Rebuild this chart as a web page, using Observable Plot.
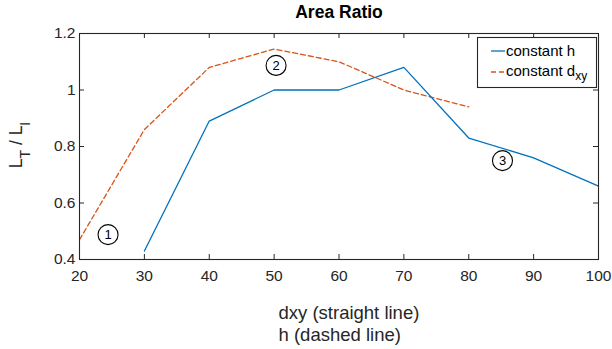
<!DOCTYPE html>
<html><head><meta charset="utf-8">
<script src="https://cdn.jsdelivr.net/npm/d3@7"></script>
<script src="https://cdn.jsdelivr.net/npm/@observablehq/plot@0.6"></script>
<style>body{margin:0;background:#fff}</style>
</head><body><div id="chart"></div>
<script>
// ---- data ----
const xTicks = [20, 30, 40, 50, 60, 70, 80, 90, 100];
const yTicks = [0.4, 0.6, 0.8, 1, 1.2];
const hX = [30, 40, 50, 60, 70, 80, 90, 100];          // constant h (solid)
const hY = [0.43, 0.89, 1.0, 1.0, 1.08, 0.83, 0.76, 0.66];
const dX = [20, 30, 40, 50, 60, 70, 80];               // constant dxy (dashed)
const dY = [0.47, 0.86, 1.08, 1.145, 1.10, 1.0, 0.94];
const annX = [24.4, 50.3, 85.2];
const annY = [0.488, 1.087, 0.75];
const annLabel = ["1", "2", "3"];
const titleText = "Area Ratio";
const xLabelText = "dxy (straight line)\nh (dashed line)";
const seriesNames = ["constant h", "constant d"];

const blue = "#0072BD", orange = "#D95319", axisColor = "#262626";
const W = 612, H = 349, mt = 33, mb = 90, ml = 79, mr = 14;
const innerH = H - mt - mb, innerW = W - ml - mr;
const font = "'Liberation Sans', Arial, Helvetica, sans-serif";

const hData = hX.map((x, i) => ({x, y: hY[i]}));
const dData = dX.map((x, i) => ({x, y: dY[i]}));
const ann = annX.map((x, i) => ({x, y: annY[i], t: annLabel[i]}));

const chart = Plot.plot({
  width: W, height: H,
  marginTop: mt, marginBottom: mb, marginLeft: ml, marginRight: mr,
  style: {fontFamily: font, fontSize: "15.5px", color: axisColor, background: "#fff"},
  x: {domain: [20, 100]},
  y: {domain: [0.4, 1.2]},
  marks: [
    Plot.line(dData, {x: "x", y: "y", stroke: orange, strokeWidth: 1.3, strokeDasharray: "5,3"}),
    Plot.line(hData, {x: "x", y: "y", stroke: blue, strokeWidth: 1.3}),
    Plot.frame({stroke: axisColor, strokeWidth: 1.1}),
    Plot.tickX(xTicks, {x: d => d, insetTop: innerH - 5, stroke: axisColor}),
    Plot.tickX(xTicks, {x: d => d, insetBottom: innerH - 5, stroke: axisColor}),
    Plot.tickY(yTicks, {y: d => d, insetRight: innerW - 5, stroke: axisColor}),
    Plot.tickY(yTicks, {y: d => d, insetLeft: innerW - 5, stroke: axisColor}),
    Plot.axisX({ticks: xTicks, tickSize: 0, tickPadding: 10, label: null, tickFormat: d => String(d)}),
    Plot.axisY({ticks: yTicks, tickSize: 0, tickPadding: 4, label: null, tickFormat: d => String(d)}),
    Plot.dot(ann, {x: "x", y: "y", r: 10, stroke: "#000", fill: "none", strokeWidth: 1.1}),
    Plot.text(ann, {x: "x", y: "y", text: "t", fontSize: 13, fill: "#000"}),
    Plot.text([titleText], {frameAnchor: "top", dy: -16, lineAnchor: "bottom", fontWeight: "bold", fontSize: 17.5, fill: "#000"}),
    Plot.text([xLabelText], {frameAnchor: "bottom", textAnchor: "start", dx: -60.5, dy: 44, lineAnchor: "top", lineHeight: 1.19, fontSize: 18.5, fill: axisColor})
  ]
});

const svg = d3.select(chart);
// y label with subscripts
const yl = svg.append("text")
  .attr("transform", "translate(21.5,145) rotate(-90)")
  .attr("text-anchor", "middle")
  .attr("fill", axisColor)
  .style("font-family", font).style("font-size", "17.5px");
yl.append("tspan").text("L");
yl.append("tspan").attr("dy", 8).style("font-size", "14px").text("T");
yl.append("tspan").attr("dy", -8).text(" / L");
yl.append("tspan").attr("dy", 8).style("font-size", "14px").text("I");

// legend
const lg = svg.append("g").style("font-family", font).style("font-size", "15px")
  .attr("text-anchor", "start");
lg.append("rect").attr("x", 477.5).attr("y", 37.5).attr("width", 119).attr("height", 50)
  .attr("fill", "#fff").attr("stroke", axisColor).attr("stroke-width", 1.1);
lg.append("line").attr("x1", 491).attr("x2", 505).attr("y1", 51).attr("y2", 51)
  .attr("stroke", blue).attr("stroke-width", 1.3);
lg.append("line").attr("x1", 491).attr("x2", 505).attr("y1", 72).attr("y2", 72)
  .attr("stroke", orange).attr("stroke-width", 1.3).attr("stroke-dasharray", "5,3");
lg.append("text").attr("x", 506).attr("y", 56).attr("text-anchor", "start").attr("fill", "#000").text(seriesNames[0]);
const t2 = lg.append("text").attr("x", 506).attr("y", 76).attr("text-anchor", "start").attr("fill", "#000");
t2.append("tspan").text(seriesNames[1]);
t2.append("tspan").attr("dy", 4).style("font-size", "12px").text("xy");

document.getElementById("chart").appendChild(chart);
</script>
</body></html>
